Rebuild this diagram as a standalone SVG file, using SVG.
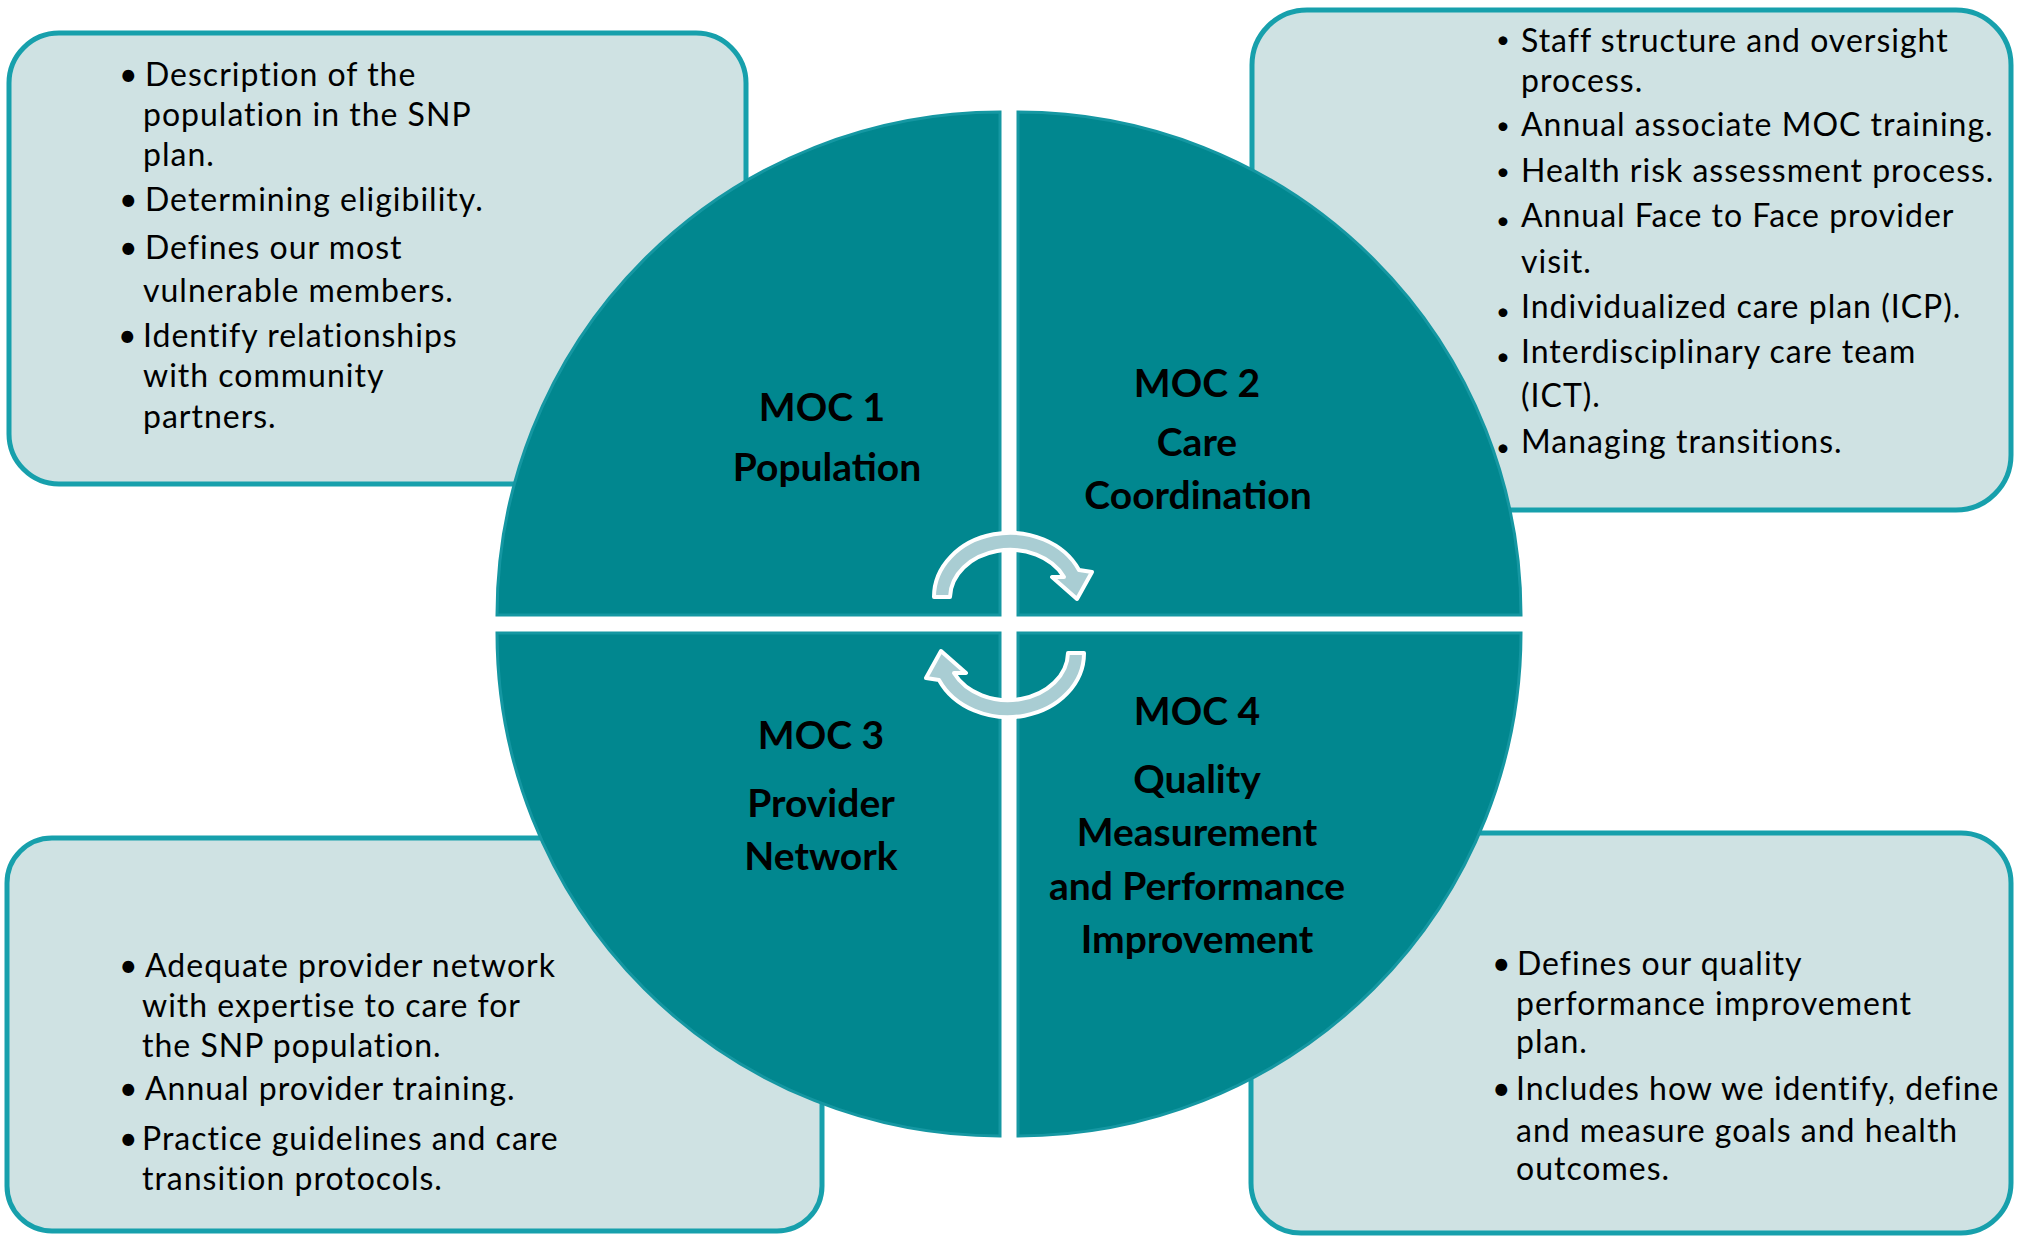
<svg xmlns="http://www.w3.org/2000/svg" width="2023" height="1238" viewBox="0 0 2023 1238">
  <defs>
    <style>
      .box { fill: #CFE2E3; stroke: #17A0AC; stroke-width: 5; }
      .quad { fill: #01878F; stroke: #1597A2; stroke-width: 3; }
      .txt { font-family: Lato, "Open Sans", "Liberation Sans", sans-serif; font-size: 32px; letter-spacing: 1px; fill: #000; }
      .sm { font-family: Lato, "Liberation Sans", sans-serif; font-size: 24px; fill: #000; }
      .lbl { font-family: Lato, "Liberation Sans", sans-serif; font-size: 39px; font-weight: bold; fill: #000; text-anchor: middle; }
      .arr { fill: #A9CDD3; stroke: #FFFFFF; stroke-width: 4; stroke-linejoin: round; }
    </style>
    <path id="cyc" d="M 934,597 A 76,64 0 0 1 1079,570 L 1092,572 L 1077,599 L 1052,577 L 1064,577 A 60,48 0 0 0 950,597 Z"/>
  </defs>
  <rect width="2023" height="1238" fill="#FFFFFF"/>

  <g id="box1">
    <rect class="box" x="9" y="33" width="737" height="451" rx="50"/>
    <text class="txt">
      <tspan x="119" y="86">•</tspan><tspan x="145" y="86">Description of the</tspan>
      <tspan x="143" y="126">population in the SNP</tspan>
      <tspan x="143" y="166">plan.</tspan>
      <tspan x="119" y="211">•</tspan><tspan x="145" y="211">Determining eligibility.</tspan>
      <tspan x="119" y="259">•</tspan><tspan x="145" y="259">Defines our most</tspan>
      <tspan x="143" y="302">vulnerable members.</tspan>
      <tspan x="118" y="347">•</tspan><tspan x="143" y="347">Identify relationships</tspan>
      <tspan x="143" y="387">with community</tspan>
      <tspan x="143" y="428">partners.</tspan>
    </text>
  </g>

  <g id="box2">
    <rect class="box" x="1252" y="10" width="759" height="500" rx="55"/>
    <text class="sm">
      <tspan x="1496" y="48">•</tspan>
      <tspan x="1496" y="134">•</tspan>
      <tspan x="1496" y="180">•</tspan>
      <tspan x="1496" y="229">•</tspan>
      <tspan x="1496" y="320">•</tspan>
      <tspan x="1496" y="365">•</tspan>
      <tspan x="1496" y="456">•</tspan>
    </text>
    <text class="txt">
      <tspan x="1521" y="52">Staff structure and oversight</tspan>
      <tspan x="1521" y="92">process.</tspan>
      <tspan x="1521" y="136">Annual associate MOC training.</tspan>
      <tspan x="1521" y="182">Health risk assessment process.</tspan>
      <tspan x="1521" y="227">Annual Face to Face provider</tspan>
      <tspan x="1521" y="273">visit.</tspan>
      <tspan x="1521" y="318">Individualized care plan (ICP).</tspan>
      <tspan x="1521" y="363">Interdisciplinary care team</tspan>
      <tspan x="1521" y="407">(ICT).</tspan>
      <tspan x="1521" y="453">Managing transitions.</tspan>
    </text>
  </g>

  <g id="box3">
    <rect class="box" x="7" y="838" width="815" height="393" rx="45"/>
    <text class="txt">
      <tspan x="119" y="977">•</tspan><tspan x="145" y="977">Adequate provider network</tspan>
      <tspan x="142" y="1017">with expertise to care for</tspan>
      <tspan x="142" y="1057">the SNP population.</tspan>
      <tspan x="119" y="1100">•</tspan><tspan x="145" y="1100">Annual provider training.</tspan>
      <tspan x="119" y="1150">•</tspan><tspan x="142" y="1150">Practice guidelines and care</tspan>
      <tspan x="142" y="1190">transition protocols.</tspan>
    </text>
  </g>

  <g id="box4">
    <rect class="box" x="1251" y="833" width="760" height="400" rx="50"/>
    <text class="txt">
      <tspan x="1492" y="975">•</tspan><tspan x="1517" y="975">Defines our quality</tspan>
      <tspan x="1516" y="1015">performance improvement</tspan>
      <tspan x="1516" y="1053">plan.</tspan>
      <tspan x="1492" y="1100">•</tspan><tspan x="1516" y="1100">Includes how we identify, define</tspan>
      <tspan x="1516" y="1142">and measure goals and health</tspan>
      <tspan x="1516" y="1180">outcomes.</tspan>
    </text>
  </g>

  <g id="moc1">
    <path class="quad" d="M 1000,615 L 497,615 A 503,503 0 0 1 1000,112 Z"/>
    <text class="lbl"><tspan x="822" y="421">MOC 1</tspan><tspan x="827" y="481">Population</tspan></text>
  </g>
  <g id="moc2">
    <path class="quad" d="M 1018,615 L 1018,112 A 503,503 0 0 1 1521,615 Z"/>
    <text class="lbl"><tspan x="1197" y="397">MOC 2</tspan><tspan x="1197" y="456">Care</tspan><tspan x="1198" y="509">Coordination</tspan></text>
  </g>
  <g id="moc3">
    <path class="quad" d="M 1000,633 L 1000,1136 A 503,503 0 0 1 497,633 Z"/>
    <text class="lbl"><tspan x="821" y="749">MOC 3</tspan><tspan x="821" y="817">Provider</tspan><tspan x="821" y="870">Network</tspan></text>
  </g>
  <g id="moc4">
    <path class="quad" d="M 1018,633 L 1521,633 A 503,503 0 0 1 1018,1136 Z"/>
    <text class="lbl"><tspan x="1197" y="725">MOC 4</tspan><tspan x="1197" y="793">Quality</tspan><tspan x="1197" y="846">Measurement</tspan><tspan x="1197" y="900">and Performance</tspan><tspan x="1197" y="953">Improvement</tspan></text>
  </g>

  <g id="connectors">
    <use href="#cyc" class="arr"/>
    <use href="#cyc" class="arr" transform="rotate(180 1009 625)"/>
  </g>
</svg>
